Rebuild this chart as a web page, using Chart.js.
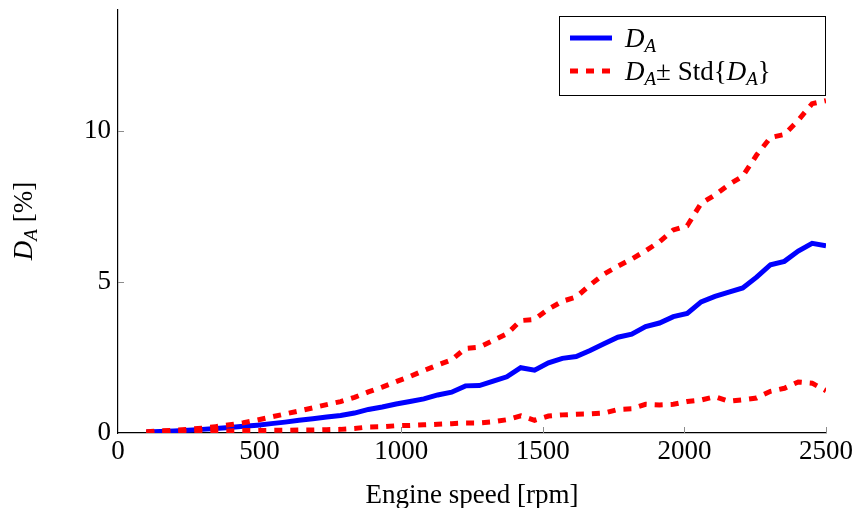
<!DOCTYPE html>
<html>
<head>
<meta charset="utf-8">
<script src="https://cdn.jsdelivr.net/npm/chart.js@4.4.0/dist/chart.umd.min.js"></script>
<style>
  html, body { margin: 0; padding: 0; background: #fff; }
</style>
</head>
<body>
<canvas id="chart" width="855" height="508"></canvas>
<script>
// engine speed bins [rpm]
const speeds = [100, 149, 198, 247, 296, 345, 394, 443, 492, 541,
  590, 639, 688, 737, 786, 835, 884, 933, 982, 1031,
  1080, 1129, 1178, 1227, 1276, 1325, 1373, 1422, 1471, 1520,
  1569, 1618, 1667, 1716, 1765, 1814, 1863, 1912, 1961, 2010,
  2059, 2108, 2157, 2206, 2255, 2304, 2353, 2402, 2451, 2500];

// D_A [%]
const meanDA = [0.03, 0.05, 0.07, 0.09, 0.12, 0.15, 0.18, 0.22, 0.26, 0.31,
  0.36, 0.42, 0.47, 0.53, 0.58, 0.66, 0.78, 0.86, 0.96, 1.04,
  1.13, 1.26, 1.35, 1.56, 1.57, 1.72, 1.86, 2.16, 2.08, 2.32,
  2.47, 2.53, 2.73, 2.95, 3.17, 3.27, 3.52, 3.64, 3.85, 3.96,
  4.34, 4.52, 4.66, 4.80, 5.16, 5.57, 5.68, 6.02, 6.28, 6.20];

// D_A + Std{D_A}
const upperDA = [0.04, 0.07, 0.09, 0.12, 0.16, 0.21, 0.27, 0.34, 0.43, 0.53,
  0.63, 0.73, 0.83, 0.94, 1.04, 1.18, 1.36, 1.52, 1.70, 1.87,
  2.07, 2.25, 2.42, 2.80, 2.84, 3.06, 3.28, 3.72, 3.76, 4.10,
  4.36, 4.50, 4.90, 5.26, 5.52, 5.76, 6.03, 6.33, 6.72, 6.86,
  7.60, 7.88, 8.22, 8.50, 9.20, 9.78, 9.88, 10.35, 10.90, 11.00];

// D_A - Std{D_A}
const lowerDA = [0.02, 0.03, 0.04, 0.05, 0.06, 0.07, 0.07, 0.08, 0.08, 0.09,
  0.09, 0.10, 0.10, 0.11, 0.12, 0.15, 0.20, 0.21, 0.24, 0.25,
  0.27, 0.29, 0.31, 0.33, 0.33, 0.37, 0.44, 0.57, 0.42, 0.56,
  0.60, 0.62, 0.63, 0.66, 0.78, 0.80, 0.95, 0.93, 0.95, 1.04,
  1.09, 1.20, 1.05, 1.10, 1.16, 1.38, 1.48, 1.69, 1.65, 1.40];

const xTicks = [0, 500, 1000, 1500, 2000, 2500];
const yTicks = [0, 5, 10];

const FONT = "'Liberation Serif', 'Times New Roman', serif";
const toPoints = arr => speeds.map((s, i) => ({ x: s, y: arr[i] }));

// inward gray tick marks, legend box and the y title with subscript
const extras = {
  id: 'extras',
  beforeDatasetsDraw(chart) {
    const ctx = chart.ctx;
    const x = chart.scales.x, y = chart.scales.y;
    ctx.save();
    ctx.strokeStyle = '#8c8c8c';
    ctx.lineWidth = 1;
    ctx.beginPath();
    xTicks.forEach(v => {
      if (v === 0) return;
      const px = Math.round(x.getPixelForValue(v)) + 0.5;
      ctx.moveTo(px, y.bottom);
      ctx.lineTo(px, y.bottom - 6);
    });
    yTicks.forEach(v => {
      if (v === 0) return;
      const py = Math.round(y.getPixelForValue(v)) + 0.5;
      ctx.moveTo(x.left, py);
      ctx.lineTo(x.left + 6, py);
    });
    ctx.stroke();
    ctx.restore();
  },
  afterDraw(chart) {
    const ctx = chart.ctx;
    ctx.save();

    // y axis title: D_A [%]
    ctx.translate(32, 221);
    ctx.rotate(-Math.PI / 2);
    ctx.fillStyle = '#000';
    ctx.textBaseline = 'alphabetic';
    const big = 'italic 27px ' + FONT, sub = 'italic 19px ' + FONT, rom = '27px ' + FONT;
    ctx.font = big; const wD = ctx.measureText('D').width;
    ctx.font = sub; const wA = ctx.measureText('A').width;
    ctx.font = rom; const wR = ctx.measureText(' [%]').width;
    let cx = -(wD + wA + wR) / 2;
    ctx.font = big; ctx.fillText('D', cx, 0); cx += wD;
    ctx.font = sub; ctx.fillText('A', cx, 5); cx += wA;
    ctx.font = rom; ctx.fillText(' [%]', cx, 0);
    ctx.restore();

    // legend
    ctx.save();
    ctx.fillStyle = '#fff';
    ctx.fillRect(559.5, 16.5, 266, 79);
    ctx.strokeStyle = '#000';
    ctx.lineWidth = 1;
    ctx.strokeRect(559.5, 16.5, 266, 79);

    ctx.lineWidth = 5;
    ctx.strokeStyle = '#0000ff';
    ctx.beginPath(); ctx.moveTo(570, 38); ctx.lineTo(612, 38); ctx.stroke();
    ctx.strokeStyle = '#ff0000';
    ctx.setLineDash([8, 8]);
    ctx.beginPath(); ctx.moveTo(570, 71); ctx.lineTo(612, 71); ctx.stroke();
    ctx.setLineDash([]);

    ctx.fillStyle = '#000';
    const drawDA = (x0, base) => {
      ctx.font = big; ctx.fillText('D', x0, base); x0 += ctx.measureText('D').width;
      ctx.font = sub; ctx.fillText('A', x0, base + 5); x0 += ctx.measureText('A').width;
      return x0;
    };
    drawDA(625, 47);
    let tx = drawDA(625, 80);
    ctx.font = rom;
    ctx.fillText('\u00B1 Std{', tx, 80); tx += ctx.measureText('\u00B1 Std{').width;
    tx = drawDA(tx, 80);
    ctx.font = rom;
    ctx.fillText('}', tx, 80);
    ctx.restore();
  }
};

new Chart(document.getElementById('chart'), {
  type: 'line',
  data: {
    datasets: [
      { label: 'D_A', data: toPoints(meanDA), borderColor: '#0000ff', borderWidth: 5,
        pointRadius: 0, fill: false, tension: 0, order: 2 },
      { label: 'D_A + Std{D_A}', data: toPoints(upperDA), borderColor: '#ff0000', borderWidth: 5,
        borderDash: [8, 8], pointRadius: 0, fill: false, tension: 0, order: 1 },
      { label: 'D_A - Std{D_A}', data: toPoints(lowerDA), borderColor: '#ff0000', borderWidth: 5,
        borderDash: [8, 8], pointRadius: 0, fill: false, tension: 0, order: 1 }
    ]
  },
  options: {
    responsive: false,
    animation: false,
    layout: { padding: { top: 10, right: 29, left: 0, bottom: 0 } },
    plugins: { legend: { display: false }, tooltip: { enabled: false } },
    scales: {
      x: {
        type: 'linear', min: 0, max: 2500,
        afterBuildTicks: s => { s.ticks = xTicks.map(v => ({ value: v })); },
        afterFit: s => { s.height = 75; s.paddingLeft = 0; s.paddingRight = 0; },
        grid: { drawOnChartArea: false, drawTicks: false },
        border: { color: '#000', width: 1.2 },
        ticks: { color: '#000', padding: 3, maxRotation: 0, callback: v => String(v),
          font: { family: FONT, size: 27 } },
        title: { display: true, text: 'Engine speed [rpm]', color: '#000',
          font: { family: FONT, size: 27, lineHeight: 1 }, padding: { top: 0, bottom: -1.5 } }
      },
      y: {
        type: 'linear', min: 0, max: 14,
        afterBuildTicks: s => { s.ticks = yTicks.map(v => ({ value: v })); },
        afterFit: s => { s.width = 118; s.paddingTop = 0; s.paddingBottom = 0; },
        grid: { drawOnChartArea: false, drawTicks: false },
        border: { color: '#000', width: 1.2 },
        ticks: { color: '#000', padding: 7, callback: v => String(v),
          font: { family: FONT, size: 27 } }
      }
    }
  },
  plugins: [extras]
});
</script>
</body>
</html>
